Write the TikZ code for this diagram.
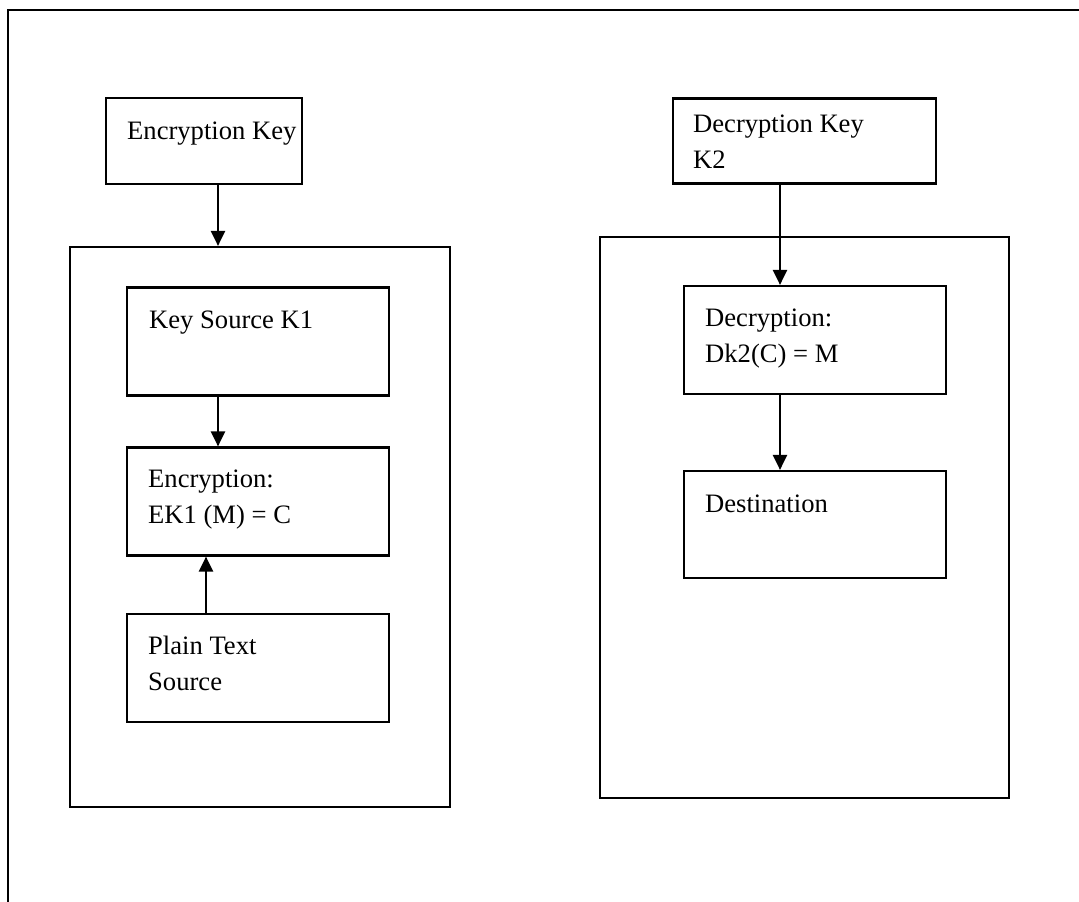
\documentclass[tikz,border=0pt]{standalone}
\usepackage{fontspec}
\setmainfont{Liberation Serif}
\usetikzlibrary{arrows.meta}
\begin{document}
\begin{tikzpicture}[x=1pt,y=-1pt,
  boxline/.style={draw=black,line width=2.2pt},
  lbl/.style={anchor=base west,inner sep=0pt,align=left,font=\fontsize{26.6}{36}\selectfont},
  arr/.style={line width=2.2pt,-{Triangle[length=15pt,width=14pt]}}]
\useasboundingbox (0,0) rectangle (1079,902);
% outer frame (top and left sides only)
\draw[line width=2.2pt] (1079,10) -- (8,10) -- (8,902);
% boxes
\node[boxline,inner sep=0pt,minimum width=196pt,minimum height=86pt] (enckey) at (204,141) {};
\node[boxline,inner sep=0pt,minimum width=263pt,minimum height=85pt] (deckey) at (804.5,141) {};
\node[boxline,inner sep=0pt,minimum width=380pt,minimum height=560pt] (leftbig) at (260,527) {};
\node[boxline,inner sep=0pt,minimum width=409pt,minimum height=561pt] (rightbig) at (804.5,517.5) {};
\node[boxline,inner sep=0pt,minimum width=262pt,minimum height=108pt] (keysrc) at (258,341.5) {};
\node[boxline,inner sep=0pt,minimum width=262pt,minimum height=108pt] (encr) at (258,501.5) {};
\node[boxline,inner sep=0pt,minimum width=262pt,minimum height=108pt] (plain) at (258,668) {};
\node[boxline,inner sep=0pt,minimum width=262pt,minimum height=108pt] (decr) at (815,340) {};
\node[boxline,inner sep=0pt,minimum width=262pt,minimum height=107pt] (dest) at (815,524.5) {};
% texts (multi-line nodes are placed by the baseline of their last line)
\node[lbl] (t1) at (127,139) {Encryption Key};
\node[lbl] (t2) at (693,168) {Decryption Key\\K2};
\node[lbl] (t3) at (149,328) {Key Source K1};
\node[lbl] (t4) at (148,523) {Encryption:\\EK1 (M) = C};
\node[lbl] (t5) at (148,690) {Plain Text\\Source};
\node[lbl] (t6) at (705,362) {Decryption:\\Dk2(C) = M};
\node[lbl] (t7) at (705,512) {Destination};
% arrow x positions
\coordinate (xa) at (218,0);
\coordinate (xb) at (206,0);
\coordinate (xc) at (780,0);
% connectors
\draw[arr] (enckey.south -| xa) -- (leftbig.north -| xa);
\draw[arr] (keysrc.south -| xa) -- (encr.north -| xa);
\draw[arr] (plain.north -| xb) -- (encr.south -| xb);
\draw[arr] (deckey.south -| xc) -- (decr.north -| xc);
\draw[arr] (decr.south -| xc) -- (dest.north -| xc);
\end{tikzpicture}
\end{document}
